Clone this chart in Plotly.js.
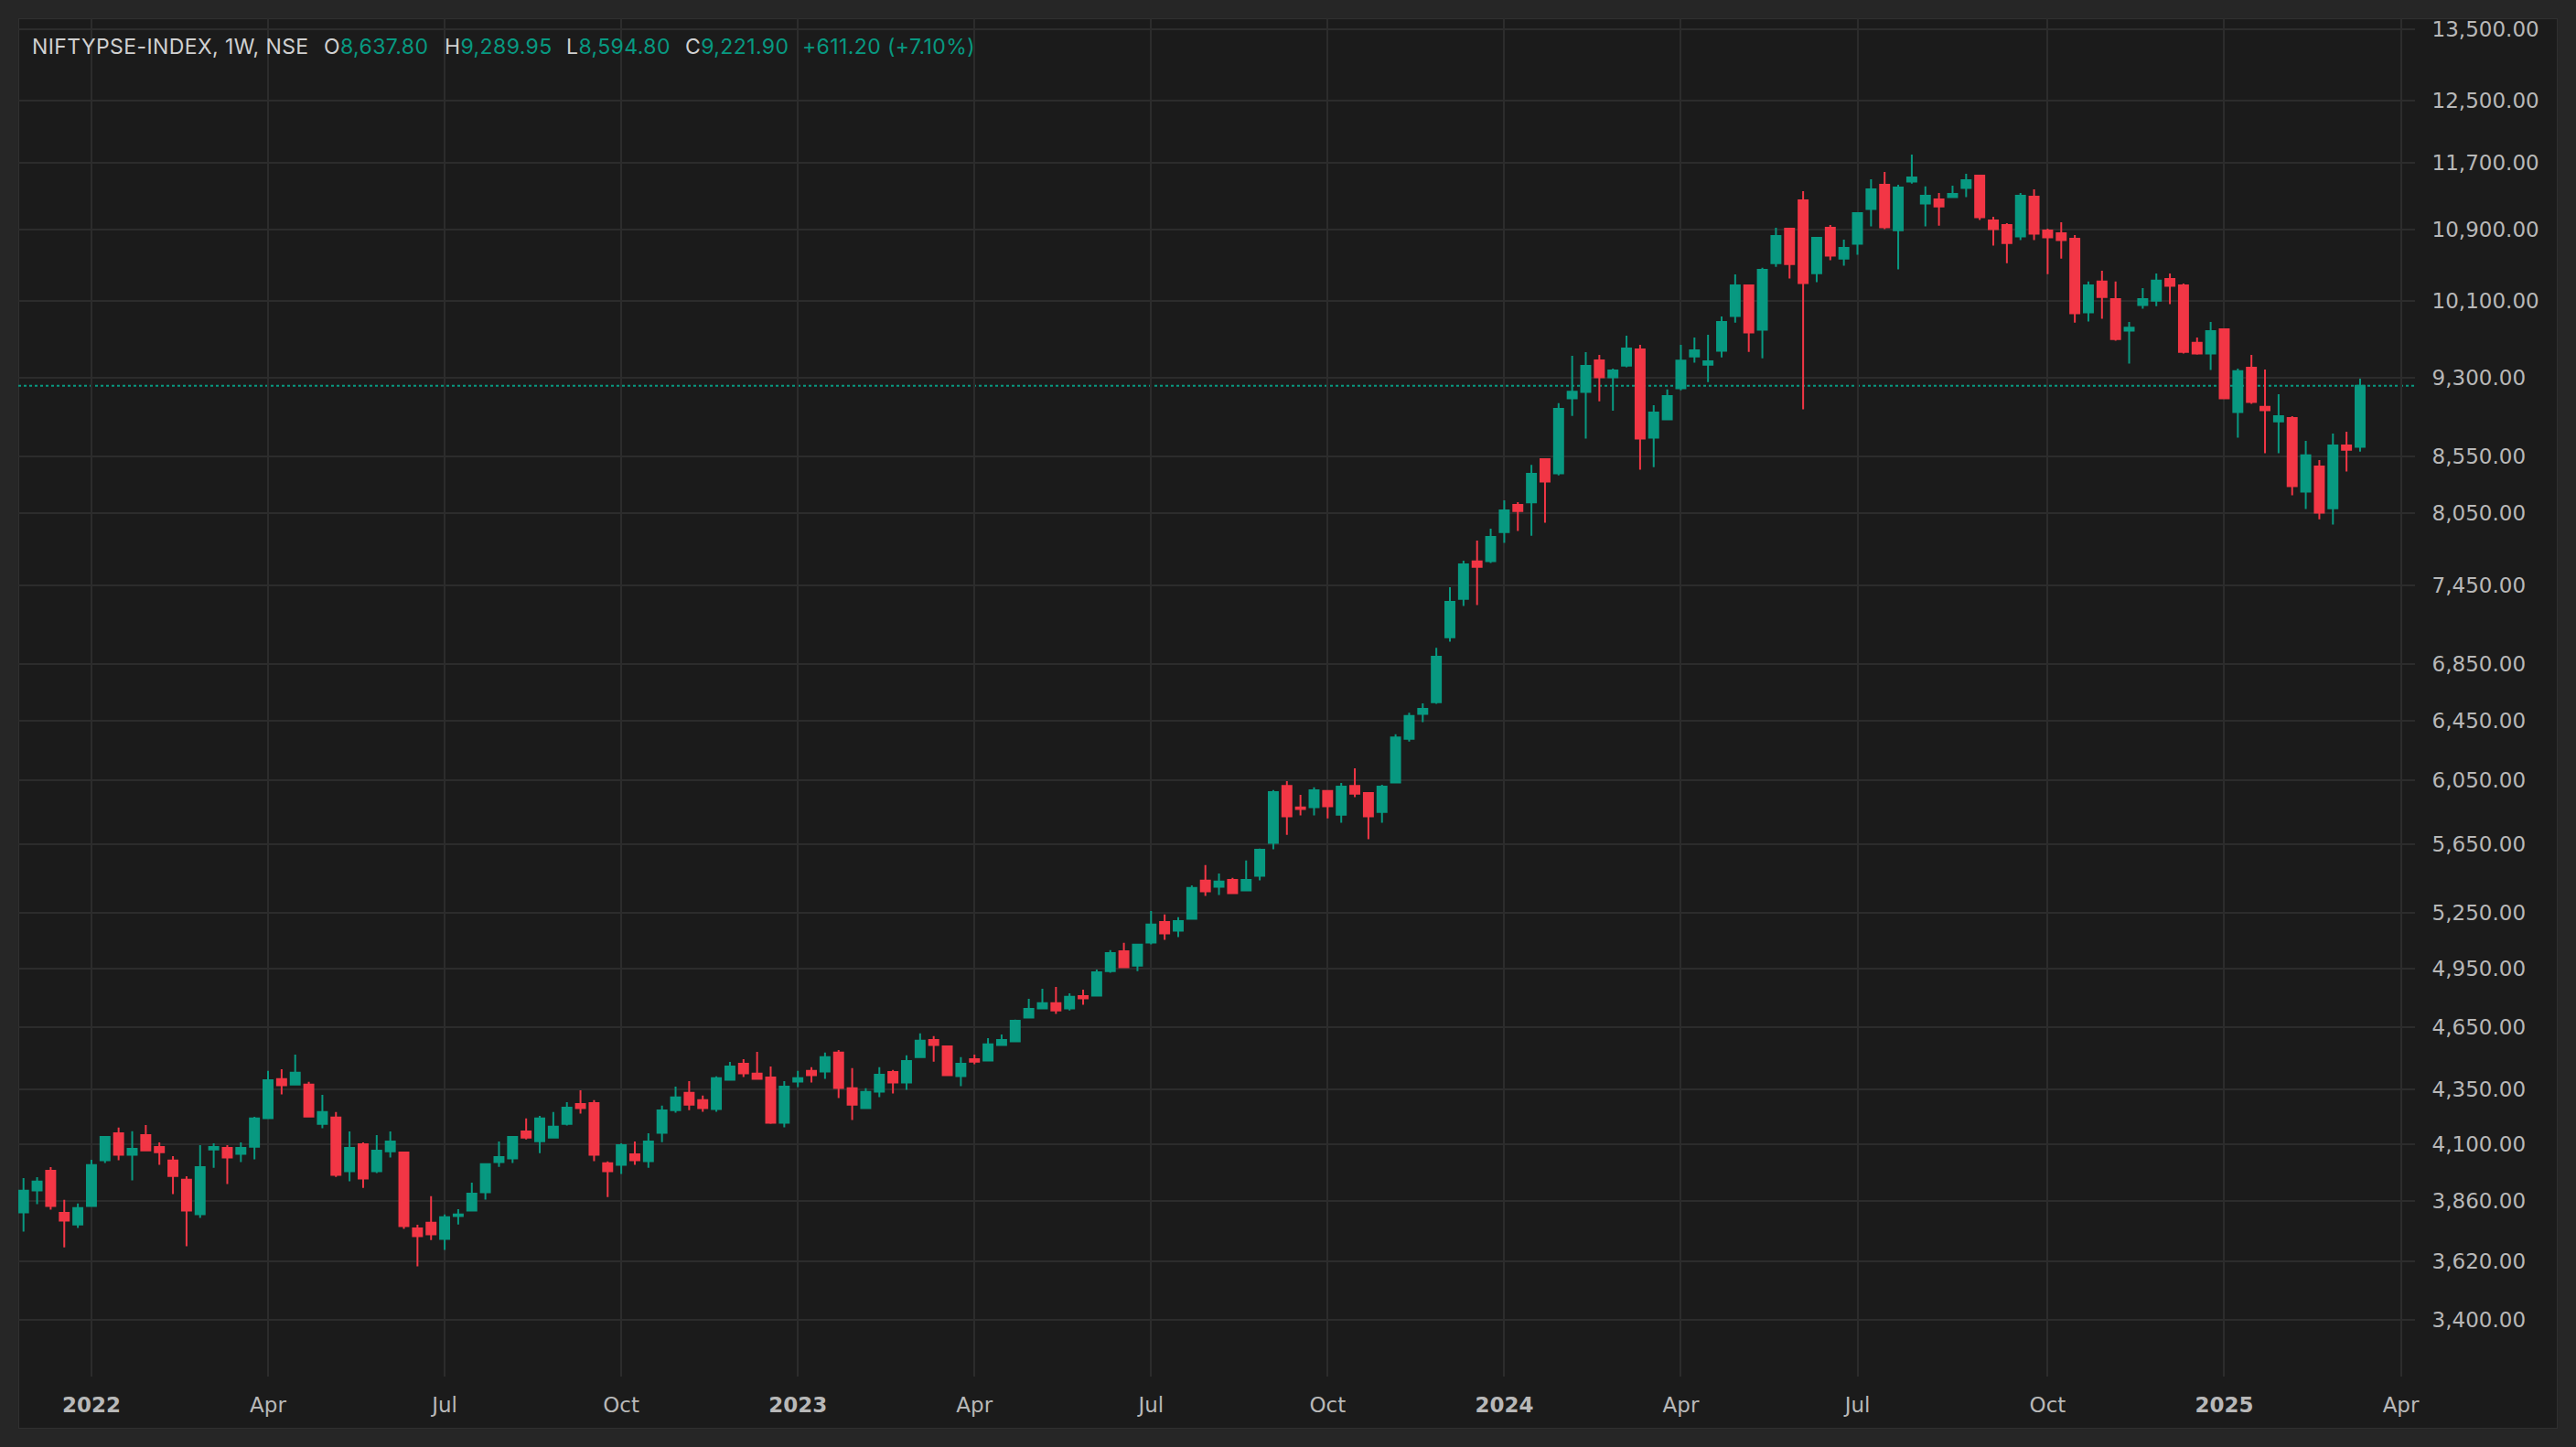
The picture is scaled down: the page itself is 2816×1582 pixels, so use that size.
<!DOCTYPE html>
<html><head><meta charset="utf-8">
<script src="https://cdn.plot.ly/plotly-3.0.1.min.js"></script>
<style>
html,body{margin:0;padding:0;background:#262626;width:2816px;height:1582px;overflow:hidden;}
#panel{position:absolute;left:20px;top:20px;width:2774px;height:1540px;background:#1b1b1b;border:1px solid #303030;}
#chart{position:absolute;left:0;top:0;width:2816px;height:1582px;}
text.annotation-text{letter-spacing:0.4px;}
</style></head><body>
<div id="panel"></div><div id="chart"></div>
<script>
// ---- data (weekly bars, first bar week of 2021-11-29) ----
const firstWeek = '2021-11-29';
const openV = [
3814, 3904, 3987, 3812, 3765, 3840, 4032, 4150, 4056, 4142,
4090, 4031, 3949, 3806, 4079, 4086, 4060, 4091, 4217, 4397,
4372, 4371, 4192, 4220, 3985, 4102, 3985, 4071, 4066, 3749,
3772, 3707, 3799, 3821, 3896, 4024, 4040, 4158, 4115, 4131,
4192, 4282, 4286, 4019, 4012, 4058, 4028, 4152, 4254, 4333,
4299, 4259, 4394, 4470, 4423, 4405, 4197, 4385, 4436, 4433,
4523, 4354, 4263, 4338, 4431, 4381, 4502, 4585, 4554, 4411,
4492, 4485, 4560, 4578, 4696, 4742, 4768, 4742, 4805, 4807,
4935, 5041, 4964, 5087, 5201, 5152, 5218, 5435, 5400, 5440,
5379, 5463, 5659, 6014, 5877, 5879, 5981, 5832, 6014, 5969,
5849, 6036, 6324, 6495, 6576, 7049, 7344, 7643, 7646, 7887,
8120, 8140, 8525, 8397, 9098, 9160, 9474, 9304, 9422, 9587,
8723, 8895, 9195, 9514, 9431, 9571, 9933, 10265, 9789, 10511,
10906, 11241, 10399, 10916, 10563, 10730, 11136, 11430, 10888, 11467,
11201, 11252, 11278, 11389, 11542, 11002, 10948, 10814, 11285, 10885,
10853, 10790, 9972, 10306, 10116, 9779, 10050, 10099, 10336, 10265,
9653, 9543, 9795, 8965, 9401, 9015, 8877, 8909, 8234, 8460,
8090, 8652, 8637.80
];
const highV = [
3956, 3960, 4003, 3865, 3850, 4034, 4138, 4175, 4159, 4187,
4110, 4050, 3964, 4098, 4106, 4098, 4110, 4224, 4436, 4444,
4514, 4384, 4324, 4245, 4158, 4110, 4142, 4158, 4070, 3764,
3880, 3805, 3827, 3937, 4019, 4114, 4138, 4216, 4228, 4245,
4290, 4345, 4299, 4027, 4106, 4114, 4150, 4274, 4362, 4388,
4320, 4410, 4479, 4492, 4527, 4457, 4388, 4436, 4453, 4523,
4536, 4449, 4354, 4453, 4440, 4510, 4617, 4604, 4558, 4501,
4514, 4594, 4612, 4685, 4791, 4843, 4852, 4819, 4838, 4943,
5046, 5086, 5081, 5262, 5242, 5227, 5408, 5526, 5477, 5451,
5553, 5624, 5987, 6045, 5957, 6005, 5983, 6033, 6128, 5974,
6021, 6355, 6503, 6568, 6970, 7436, 7649, 7815, 7916, 8159,
8143, 8474, 8528, 9051, 9521, 9559, 9529, 9392, 9728, 9634,
9032, 9185, 9634, 9709, 9737, 9930, 10386, 10275, 10458, 10916,
10910, 11352, 10811, 10948, 10778, 11099, 11497, 11587, 11430, 11803,
11408, 11330, 11419, 11564, 11546, 11045, 10970, 11330, 11374, 10906,
10981, 10832, 10306, 10426, 10306, 9872, 10235, 10396, 10396, 10285,
9709, 9872, 9798, 9392, 9530, 9383, 9138, 8927, 8694, 8518,
8763, 8780, 9289.95
];
const lowV = [
3736, 3847, 3825, 3674, 3751, 3837, 4020, 4032, 3946, 4073,
4012, 3889, 3678, 3791, 4000, 3931, 4024, 4036, 4213, 4326,
4368, 4221, 4172, 3961, 3942, 3915, 3977, 4044, 3747, 3600,
3703, 3664, 3765, 3819, 3866, 4004, 4020, 4123, 4063, 4130,
4184, 4238, 4028, 3877, 3973, 4012, 4000, 4111, 4242, 4254,
4246, 4246, 4392, 4407, 4396, 4192, 4176, 4360, 4381, 4398,
4309, 4209, 4261, 4313, 4330, 4347, 4498, 4480, 4411, 4364,
4467, 4483, 4558, 4573, 4694, 4737, 4714, 4732, 4760, 4802,
4926, 4953, 4935, 5077, 5102, 5117, 5216, 5347, 5352, 5358,
5373, 5437, 5620, 5708, 5828, 5828, 5809, 5782, 5943, 5681,
5782, 6033, 6306, 6438, 6565, 7015, 7289, 7295, 7631, 7797,
7897, 7856, 7966, 8380, 8929, 8714, 9068, 8979, 9404, 8430,
8454, 8893, 9177, 9450, 9258, 9505, 9865, 9561, 9496, 10470,
10339, 8991, 10299, 10543, 10481, 10605, 10931, 10899, 10441, 11444,
10931, 10941, 11267, 11278, 11006, 10709, 10511, 10773, 10773, 10389,
10563, 9865, 9875, 9904, 9675, 9441, 10011, 10040, 10060, 9543,
9533, 9377, 9088, 8723, 9044, 8579, 8579, 8202, 8083, 7996,
7950, 8413, 8594.80
];
const closeV = [
3903, 3941, 3840, 3780, 3831, 4011, 4134, 4056, 4082, 4075,
4067, 3965, 3821, 4003, 4090, 4044, 4086, 4216, 4392, 4368,
4427, 4225, 4245, 3969, 4086, 3954, 4074, 4114, 3758, 3718,
3725, 3794, 3805, 3891, 4015, 4046, 4134, 4131, 4216, 4179,
4265, 4263, 4056, 3985, 4098, 4032, 4114, 4253, 4312, 4279,
4263, 4401, 4457, 4424, 4398, 4197, 4362, 4401, 4415, 4501,
4355, 4279, 4337, 4418, 4381, 4483, 4581, 4560, 4415, 4470,
4480, 4563, 4585, 4680, 4740, 4768, 4732, 4801, 4793, 4929,
5031, 4955, 5076, 5186, 5137, 5206, 5393, 5373, 5430, 5363,
5440, 5618, 5975, 5821, 5867, 5986, 5884, 6010, 5964, 5821,
6010, 6334, 6480, 6529, 6904, 7321, 7619, 7600, 7846, 8072,
8066, 8394, 8323, 8997, 9163, 9419, 9304, 9374, 9596, 8714,
8962, 9120, 9473, 9577, 9465, 9872, 10265, 9760, 10437, 10821,
10501, 10289, 10800, 10595, 10685, 11088, 11374, 10920, 11396, 11519,
11296, 11168, 11319, 11486, 11038, 10899, 10740, 11296, 10846, 10804,
10773, 9962, 10265, 10138, 9693, 9811, 10116, 10316, 10259, 9561,
9543, 9776, 9097, 9365, 9062, 8982, 8927, 8283, 8560, 8051,
8652, 8610.70, 9221.90
];
const xTickVals = ['2022-01-03','2022-04-04','2022-07-04','2022-10-03','2023-01-02','2023-04-03','2023-07-03','2023-10-02','2024-01-01','2024-04-01','2024-07-01','2024-10-07','2025-01-06','2025-04-07'];
const xTickText = ['<b>2022</b>','Apr','Jul','Oct','<b>2023</b>','Apr','Jul','Oct','<b>2024</b>','Apr','Jul','Oct','<b>2025</b>','Apr'];
const yTickVals = [3400,3620,3860,4100,4350,4650,4950,5250,5650,6050,6450,6850,7450,8050,8550,9300,10100,10900,11700,12500,13500];
const yTickText = ['3,400.00','3,620.00','3,860.00','4,100.00','4,350.00','4,650.00','4,950.00','5,250.00','5,650.00','6,050.00','6,450.00','6,850.00','7,450.00','8,050.00','8,550.00','9,300.00','10,100.00','10,900.00','11,700.00','12,500.00','13,500.00'];
const headerSymbol = 'NIFTYPSE-INDEX, 1W, NSE';
const headerO = '8,637.80', headerH = '9,289.95', headerL = '8,594.80', headerC = '9,221.90';
const headerChange = '+611.20 (+7.10%)';
const lastClose = 9221.90;

// weekly bar dates
const dates = [];
(function(){
  const d0 = new Date(firstWeek + 'T00:00:00Z');
  for (let i = 0; i < openV.length; i++) {
    const d = new Date(d0.getTime() + i * 7 * 86400000);
    dates.push(d.toISOString().slice(0,10));
  }
})();

const GREEN = '#089981', RED = '#F23645';
const trace = {
  type: 'candlestick', x: dates, open: openV, high: highV, low: lowV, close: closeV,
  increasing: {line: {color: GREEN, width: 2}, fillcolor: GREEN},
  decreasing: {line: {color: RED, width: 2}, fillcolor: RED},
  whiskerwidth: 0, hoverinfo: 'skip', showlegend: false
};

// pixel helpers for header placement (plot area: x 20..2640, y 20..1505)
const PX = x => (x - 20) / 2620;
const PY = y => (1505 - y) / 1485;
const hFont = {family: 'Inter, Roboto, sans-serif', size: 23, color: '#d1d1d1'};
function hdr(x, text) {
  return {xref: 'paper', yref: 'paper', x: PX(x), y: PY(51), xanchor: 'left', yanchor: 'middle',
          text: text, showarrow: false, font: hFont, borderpad: 0};
}
const g = s => '<span style="color:' + GREEN + '">' + s + '</span>';
const axisFont = {family: '"DejaVu Sans", Inter, sans-serif', size: 23, color: '#b8b8b8'};

const layout = {
  width: 2816, height: 1582,
  margin: {l: 20, r: 176, t: 20, b: 77, pad: 0},
  paper_bgcolor: 'rgba(0,0,0,0)', plot_bgcolor: 'rgba(0,0,0,0)',
  showlegend: false,
  boxgap: 0.33, boxgroupgap: 0,
  xaxis: {
    type: 'date', range: ['2021-11-26 07:30', '2025-04-14 07:00'],
    tickmode: 'array', tickvals: xTickVals, ticktext: xTickText,
    showgrid: true, gridcolor: '#2c2c2c', gridwidth: 2,
    zeroline: false, showline: false,
    ticks: 'outside', ticklen: 10, tickcolor: 'rgba(0,0,0,0)',
    tickfont: axisFont,
    rangeslider: {visible: false}, fixedrange: true
  },
  yaxis: {
    type: 'log', side: 'right', range: [3.50518, 4.13522],
    tickmode: 'array', tickvals: yTickVals, ticktext: yTickText,
    showgrid: true, gridcolor: '#2c2c2c', gridwidth: 2,
    zeroline: false, showline: false,
    ticks: 'outside', ticklen: 13, tickcolor: 'rgba(0,0,0,0)',
    tickfont: axisFont,
    fixedrange: true
  },
  shapes: [{type: 'line', xref: 'paper', x0: 0, x1: 1, yref: 'y', y0: lastClose, y1: lastClose,
            line: {color: GREEN, width: 2, dash: 'dot'}, layer: 'below'}],
  annotations: [
    hdr(34, headerSymbol),
    hdr(353, 'O' + g(headerO)),
    hdr(485, 'H' + g(headerH)),
    hdr(618, 'L' + g(headerL)),
    hdr(748, 'C' + g(headerC)),
    hdr(876, g(headerChange))
  ]
};

Plotly.newPlot('chart', [trace], layout, {staticPlot: true, displayModeBar: false});
</script></body></html>
